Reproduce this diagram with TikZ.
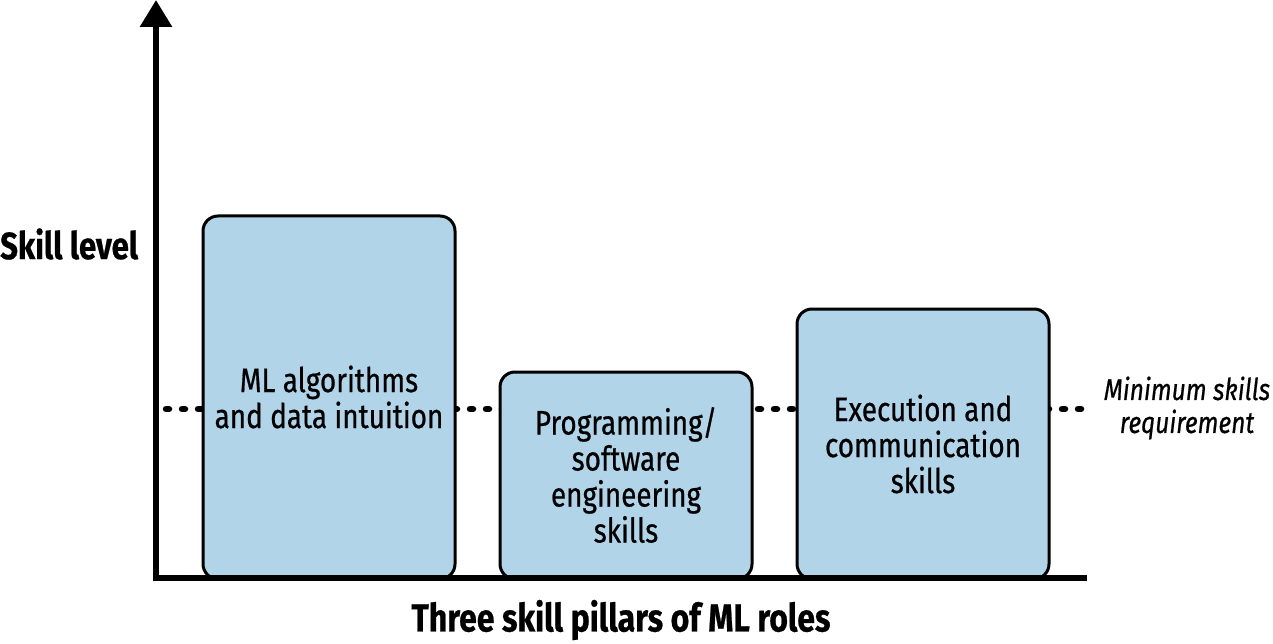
\documentclass[tikz,border=0pt]{standalone}
\usepackage{fontspec}
\setmainfont{Fira Sans}[FakeStretch=0.82,FakeBold=0.6]
\usetikzlibrary{arrows.meta}
\definecolor{pillar}{RGB}{177,212,233}
\begin{document}
\begin{tikzpicture}[x=1pt,y=-1pt,
  pillarbox/.style={draw=black,fill=pillar,line width=3pt,rounded corners=15pt},
  lbl/.style={align=center,font=\fontsize{34}{36}\selectfont,inner sep=0pt},
  axis/.style={line width=6pt},
  minline/.style={line width=6.5pt,line cap=round,dash pattern=on 3pt off 13pt}]
\useasboundingbox (0,0) rectangle (1273,644);
% dotted minimum line
\coordinate (dl) at (166,409);
\coordinate (dr) at (1088,409);
\draw[minline] (dl) -- (dr);
% boxes
\draw[pillarbox] (203,216) rectangle (455,579);
\draw[pillarbox] (500,372) rectangle (752,579);
\draw[pillarbox] (797,309) rectangle (1049,579);
% axes
\coordinate (origin) at (156,578);
\coordinate (ytop) at (156,0);
\coordinate (xend) at (1087,578);
\draw[axis,-{Triangle[length=27pt,width=31pt]}] ([yshift=3pt]origin) -- (ytop);
\draw[axis] ([xshift=-3pt]origin) -- (xend);
% labels
\node[lbl] (a) at (329,397) {ML algorithms\\and data intuition};
\node[lbl] (b) at (626,475) {Programming/\\software\\engineering\\skills};
\node[lbl] (c) at (923,444) {Execution and\\communication\\skills};
\node[lbl,font=\itshape\fontsize{30}{33}\selectfont] (m) at (1187,408) {Minimum skills\\requirement};
\node[lbl,font=\bfseries\fontsize{38}{40}\selectfont,anchor=west] (y) at (0,244) {Skill level};
\node[lbl,font=\bfseries\fontsize{39}{40}\selectfont] (x) at (621,620) {Three skill pillars of ML roles};
\end{tikzpicture}
\end{document}
